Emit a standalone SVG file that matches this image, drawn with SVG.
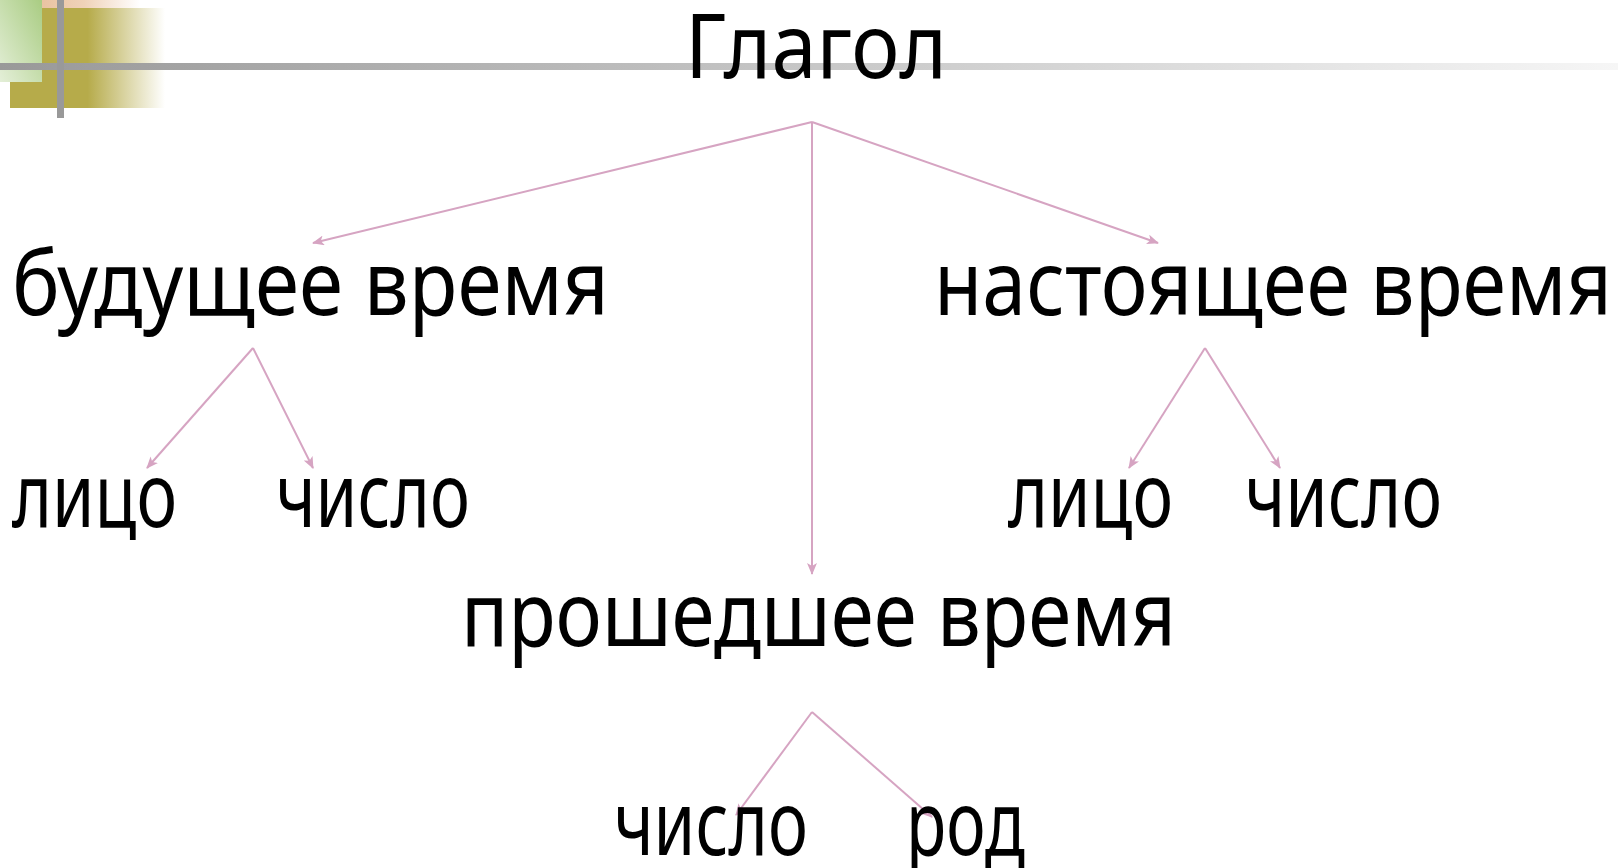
<svg xmlns="http://www.w3.org/2000/svg" width="1618" height="868" viewBox="0 0 1618 868">
<style>
.t{font-family:"Noto Sans","DejaVu Sans","Liberation Sans",sans-serif;font-size:90px;fill:#000}
.c{stroke:#d6a4c2;stroke-width:2;fill:none;marker-end:url(#ah)}
</style>
<defs>
<linearGradient id="gOr" x1="0" y1="0" x2="1" y2="0"><stop offset="0" stop-color="#e4b48a"/><stop offset="0.6" stop-color="#efd2b8"/><stop offset="1" stop-color="#fff"/></linearGradient>
<linearGradient id="gOl" x1="0" y1="0" x2="1" y2="0"><stop offset="0" stop-color="#b6ab4a"/><stop offset="0.5" stop-color="#b6ab4a"/><stop offset="1" stop-color="#fff"/></linearGradient>
<linearGradient id="gGr" x1="1" y1="0" x2="0" y2="1"><stop offset="0" stop-color="#a9cc82"/><stop offset="1" stop-color="#e4efd8"/></linearGradient>
<linearGradient id="gLn" x1="0" y1="0" x2="1" y2="0"><stop offset="0" stop-color="#999"/><stop offset="0.4" stop-color="#bdbdbd"/><stop offset="1" stop-color="#f6f6f6"/></linearGradient>
<marker id="ah" viewBox="0 0 12 10" refX="11" refY="5" markerWidth="12" markerHeight="10" markerUnits="userSpaceOnUse" orient="auto"><path d="M0,0 L12,5 L0,10 L3,5 Z" fill="#d6a4c2"/></marker>
</defs>
<g id="decoration">
<rect x="0" y="0" width="140" height="40" fill="url(#gOr)"/>
<rect x="10" y="8" width="155" height="100" fill="url(#gOl)"/>
<rect x="0" y="0" width="42" height="82" fill="url(#gGr)"/>
<rect x="0" y="63" width="1618" height="7" fill="url(#gLn)"/>
<rect x="57" y="0" width="7" height="118" fill="#999"/>
</g>
<g id="connectors">
<line class="c" x1="812" y1="122" x2="313" y2="243"/>
<line class="c" x1="812" y1="122" x2="1158" y2="243"/>
<line class="c" x1="812" y1="122" x2="812" y2="574"/>
<line class="c" x1="253" y1="348" x2="147" y2="468"/>
<line class="c" x1="253" y1="348" x2="313" y2="468"/>
<line class="c" x1="1205" y1="348" x2="1129" y2="468"/>
<line class="c" x1="1205" y1="348" x2="1280" y2="468"/>
<line class="c" x1="812" y1="712" x2="736" y2="815"/>
<line class="c" x1="812" y1="712" x2="932" y2="817"/>
</g>
<g id="n-glagol"><text class="t" x="685" y="78" font-size="88" textLength="262" lengthAdjust="spacingAndGlyphs">Глагол</text></g>
<g id="n-future"><text class="t" x="12" y="315" textLength="597" lengthAdjust="spacingAndGlyphs">будущее время</text></g>
<g id="n-present"><text class="t" x="934" y="315" textLength="678" lengthAdjust="spacingAndGlyphs">настоящее время</text></g>
<g id="n-future-person"><text class="t" x="12" y="527" textLength="165" lengthAdjust="spacingAndGlyphs">лицо</text></g>
<g id="n-future-number"><text class="t" x="276" y="527" textLength="194" lengthAdjust="spacingAndGlyphs">число</text></g>
<g id="n-present-person"><text class="t" x="1008" y="527" textLength="165" lengthAdjust="spacingAndGlyphs">лицо</text></g>
<g id="n-present-number"><text class="t" x="1245" y="527" textLength="197" lengthAdjust="spacingAndGlyphs">число</text></g>
<g id="n-past"><text class="t" x="461" y="646" textLength="715" lengthAdjust="spacingAndGlyphs">прошедшее время</text></g>
<g id="n-past-number"><text class="t" x="614" y="855" textLength="194" lengthAdjust="spacingAndGlyphs">число</text></g>
<g id="n-past-gender"><text class="t" x="906" y="855" textLength="119" lengthAdjust="spacingAndGlyphs">род</text></g>
</svg>
